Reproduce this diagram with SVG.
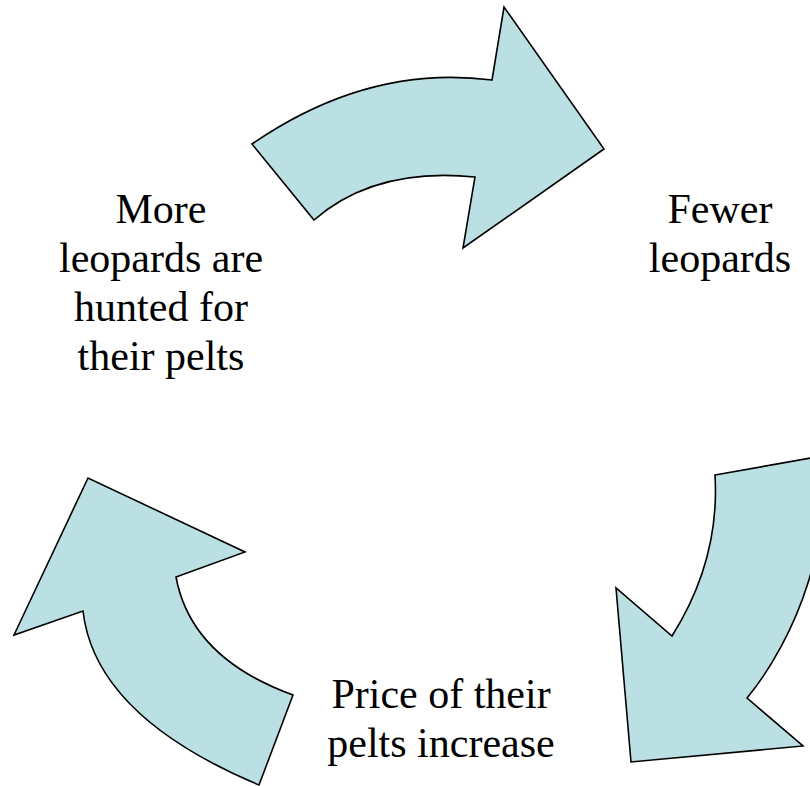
<svg xmlns="http://www.w3.org/2000/svg" width="810" height="786" viewBox="0 0 810 786">
<style>
.arrow{fill:#BBE0E3;stroke:#000;stroke-width:1.6;stroke-linejoin:miter}
.lbl{font-family:"Liberation Serif","Times New Roman",serif;font-size:42px;fill:#000;text-anchor:middle}
</style>
<rect width="810" height="786" fill="#fff"/>
<g id="connectors">
<path id="arrow-top" class="arrow" d="M252,144 Q368,64 492,80 L504,7 L604,149 L463,248 L475,177 Q375,167 314,220 Z"/>
<path id="arrow-right" class="arrow" d="M715,475 L811,458 C840,530 795,640 747,698 L803,746 L631,762 L616,588 L672,636 Q720,560 715,475 Z"/>
<path id="arrow-left" class="arrow" d="M259,785 Q95,716 83,611 L14,635 L88,478 L245,552 L176,577 Q191,658 293,695 Z"/>
</g>
<g id="node-hunted">
<text class="lbl" x="161" y="223">More</text>
<text class="lbl" x="161" y="272">leopards are</text>
<text class="lbl" x="161" y="321">hunted for</text>
<text class="lbl" x="161" y="370">their pelts</text>
</g>
<g id="node-fewer">
<text class="lbl" x="720" y="223">Fewer</text>
<text class="lbl" x="720" y="272">leopards</text>
</g>
<g id="node-price">
<text class="lbl" x="441" y="708">Price of their</text>
<text class="lbl" x="441" y="757">pelts increase</text>
</g>
</svg>
